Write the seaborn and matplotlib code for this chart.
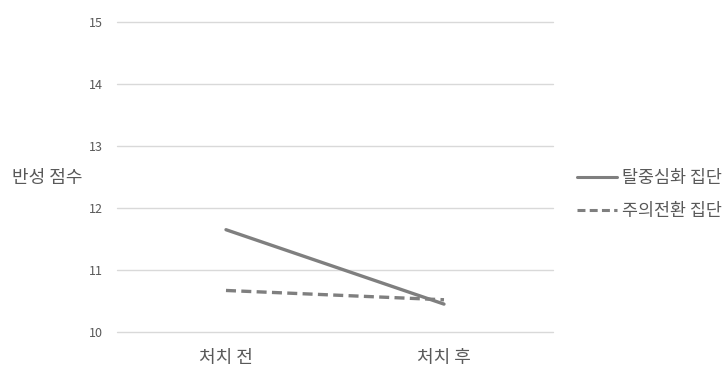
import matplotlib
matplotlib.use("Agg")
import matplotlib.pyplot as plt
import seaborn as sns
import pandas as pd

# 처치 전/후 반성 점수 평균
phases = ["처치 전", "처치 후"]
groups = ["탈중심화 집단", "주의전환 집단"]
decentering = [11.65, 10.45]
attention_shift = [10.67, 10.52]
y_ticks = [10, 11, 12, 13, 14, 15]

df = pd.DataFrame({
    "phase": phases * 2,
    "score": decentering + attention_shift,
    "group": [groups[0]] * 2 + [groups[1]] * 2,
})

sns.set_theme(style="white")
plt.rcParams["font.family"] = ["Noto Sans CJK KR", "DejaVu Sans"]

fig = plt.figure(figsize=(7.28, 3.70), dpi=100)
ax = fig.add_axes([0.1607, 0.1027, 0.5989, 0.8378])

line_color = "#7f7f7f"
text_color = "#595959"
sns.lineplot(
    data=df, x="phase", y="score", hue="group", style="group",
    palette={groups[0]: line_color, groups[1]: line_color},
    dashes={groups[0]: "", groups[1]: (3, 1.6)},
    linewidth=2.4, ax=ax, sort=False, legend=False,
)

ax.set_xlim(-0.5, 1.5)
ax.set_ylim(10, 15)
ax.set_yticks(y_ticks)
ax.set_yticklabels([str(t) for t in y_ticks])
ax.yaxis.grid(True, color="#d9d9d9", linewidth=1)
ax.xaxis.grid(False)
for gl in ax.get_ygridlines():
    gl.set_clip_on(False)
for s in ax.spines.values():
    s.set_visible(False)

ax.tick_params(axis="y", length=0, pad=10, labelsize=9, labelcolor=text_color)
ax.tick_params(axis="x", length=0, pad=12, labelsize=13, labelcolor=text_color)
ax.set_xlabel("")
ax.set_ylabel("")

fig.text(0.017, 0.518, "반성 점수", fontsize=13, color=text_color,
         ha="left", va="center")

handles = [
    plt.Line2D([], [], color=line_color, lw=2.2, linestyle="-"),
    plt.Line2D([], [], color=line_color, lw=2.2, dashes=(2.6, 1.4)),
]
fig.legend(handles, groups, loc="center left", bbox_to_anchor=(0.771, 0.474),
           frameon=False, fontsize=12.5, labelcolor=text_color,
           handlelength=2.3, handletextpad=0.29, labelspacing=0.85)

fig.savefig("out.png", dpi=100, facecolor="white")
